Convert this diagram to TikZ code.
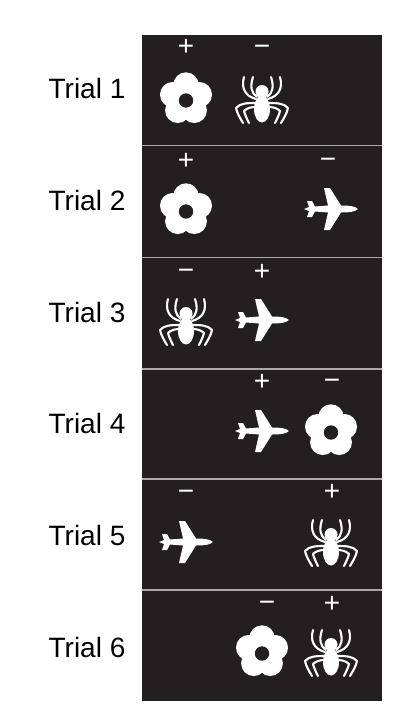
\documentclass[tikz,border=0pt]{standalone}
\usepackage{fontspec}
\setmainfont{Liberation Sans}
\definecolor{panelcol}{HTML}{231F20}
\definecolor{linecol}{HTML}{A9A9A9}
\tikzset{
  triallabel/.style={anchor=center,text=black,font=\fontsize{28}{30}\selectfont,inner sep=0pt},
  signlabel/.style={anchor=base,yshift=-9.5pt,text=white,font=\fontsize{28}{28}\selectfont,inner sep=0pt},
  leg/.style={draw=white,line width=2.1pt,line cap=round,line join=round},
  flower/.pic={
    \foreach \a in {-90,-18,54,126,198}
      \fill[white] (\a:14) circle (12.7);
    \fill[white] (0,0) circle (14);
    \fill[panelcol] (0,1.5) circle (7.2);
  },
  spider/.pic={
    \fill[white] (0,-8.5) circle (6.5);
    \fill[white] (0,9) ellipse (8 and 13.5);
    \foreach \s in {1,-1} {
      \begin{scope}[xscale=\s]
        \draw[leg] (5,-3) .. controls (11,-7) and (12,-14) .. (9,-23);
        \draw[leg] (6,-1) .. controls (17,-4) and (21,-12) .. (18,-23);
        \draw[leg] (6,3) .. controls (14,3) and (22,3) .. (26,8) .. controls (25,13) and (22,18) .. (19,23);
        \draw[leg] (6,7) .. controls (11,7) and (15,8) .. (18,11) .. controls (17,15) and (15,19) .. (13,23);
      \end{scope}
    }
  },
  plane/.pic={
    \fill[white] (27,0) .. controls (24,-3) and (18,-3.5) .. (10,-3.5)
      -- (-1,-21) -- (-7,-21) -- (-3,-3.5) -- (-16,-2.5) -- (-19,-8) -- (-24,-8)
      -- (-22,-2) -- (-27,0) -- (-22,2) -- (-24,8) -- (-19,8) -- (-16,2.5)
      -- (-3,3.5) -- (-7,21) -- (-1,21) -- (10,3.5)
      .. controls (18,3.5) and (24,3) .. (27,0) -- cycle;
  }
}
\begin{document}
\begin{tikzpicture}[x=1pt,y=-1pt]
\useasboundingbox (0,0) rectangle (418,712);
\fill[white] (0,0) rectangle (418,712);
% panel
\fill[panelcol] (142,35) rectangle (382,701);
\foreach \y in {145.5,257.5,369,479,590}
  \draw[linecol,line width=1.4pt] (142,\y) -- (382,\y);
% row labels
\foreach \i/\y in {1/88,2/200,3/312,4/423,5/535,6/647}
  \node[triallabel] (trial\i) at (87,\y) {Trial \i};
% signs
\foreach \n/\t/\x/\y in {a/+/186/46,b/−/262/46,c/+/186/160,d/−/328/159,e/−/186/270,f/+/262/271,g/+/262/381,h/−/332/380,i/−/186/491,j/+/332/491,k/−/267/602,l/+/332/603}
  \node[signlabel] (sign\n) at (\x,\y) {\t};
% icons
\foreach \n/\x/\y in {A/186/99,B/186/210,C/331/431,D/262/652}
  \pic (flower\n) at (\x,\y) {flower};
\foreach \n/\x/\y in {A/262/100,B/186/322,C/331/543,D/331/653}
  \pic (spider\n) at (\x,\y) {spider};
\foreach \n/\x/\y in {A/331/209,B/262/320,C/262/431,D/186/542}
  \pic (plane\n) at (\x,\y) {plane};
\end{tikzpicture}
\end{document}
